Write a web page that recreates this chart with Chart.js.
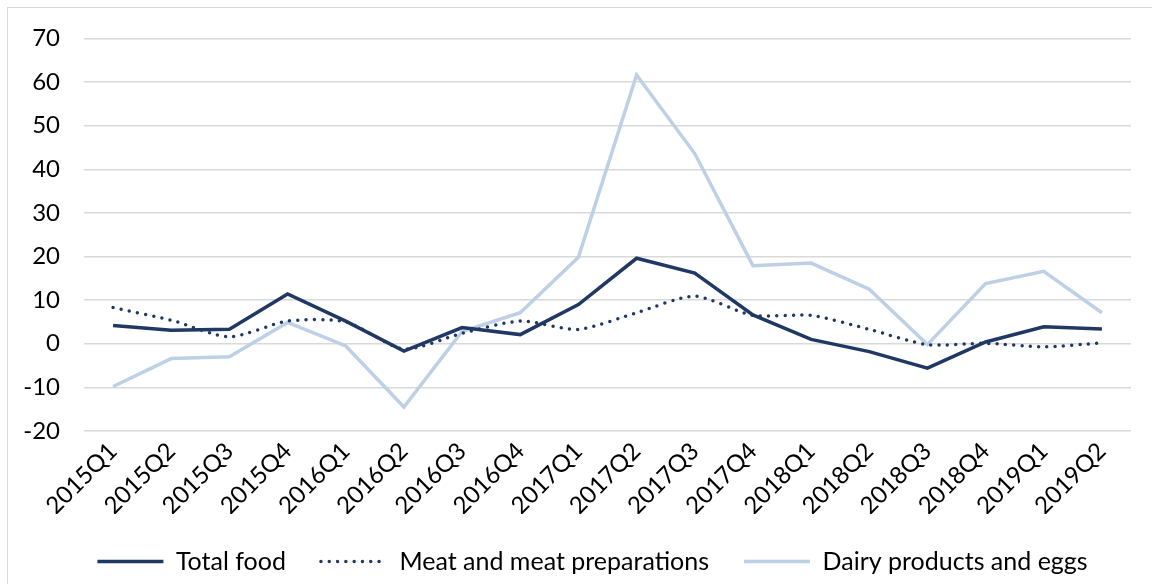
<!DOCTYPE html>
<html>
<head>
<meta charset="utf-8">
<script src="https://cdn.jsdelivr.net/npm/chart.js@4/dist/chart.umd.min.js"></script>
<style>
  html, body { margin: 0; padding: 0; background: #fff; }
  #wrap { position: relative; width: 1152px; height: 584px; overflow: hidden; }
  #frame { position: absolute; left: 7px; top: 7px; width: 1200px; height: 700px; border: 1px solid #d9d9d9; box-sizing: border-box; }
  #chart { position: absolute; left: 0; top: 0; }
</style>
</head>
<body>
<div id="wrap">
  <div id="frame"></div>
  <canvas id="chart" width="1152" height="584"></canvas>
</div>
<script>
const quarters = ['2015Q1', '2015Q2', '2015Q3', '2015Q4', '2016Q1', '2016Q2', '2016Q3', '2016Q4',
  '2017Q1', '2017Q2', '2017Q3', '2017Q4', '2018Q1', '2018Q2', '2018Q3', '2018Q4', '2019Q1', '2019Q2'];

const totalFood = [4.2, 3.1, 3.3, 11.4, 5.2, -1.7, 3.7, 2.1, 9.0, 19.6, 16.2, 6.6, 1.0, -1.8, -5.6, 0.4, 3.9, 3.4];
const meat = [8.3, 5.4, 1.6, 5.2, 5.0, -1.2, 2.4, 5.2, 3.3, 7.1, 10.9, 6.5, 6.5, 3.3, -0.2, 0.1, -0.7, 0.2];
const dairy = [-9.8, -3.4, -3.0, 4.9, -0.5, -14.5, 2.8, 7.1, 19.8, 61.6, 43.6, 17.9, 18.5, 12.5, -0.2, 13.8, 16.6, 7.1];

const yMin = -20;
const yMax = 70;
const yStep = 10;

const dark = '#203864';
const light = '#bdd0e5';
const font = { family: 'Lato', size: 24 };

// legend is centred a bit right of the plot in the original
const shiftLegend = {
  id: 'shiftLegend',
  afterLayout(chart) {
    chart.legend.left += 27;
    chart.legend.right += 27;
  }
};

new Chart('chart', {
  type: 'line',
  data: {
    labels: quarters,
    datasets: [
      {
        label: 'Total food',
        data: totalFood,
        borderColor: dark,
        backgroundColor: dark,
        borderWidth: 3.5,
        pointRadius: 0,
        tension: 0,
        order: 1
      },
      {
        label: 'Meat and meat preparations',
        data: meat,
        borderColor: dark,
        backgroundColor: dark,
        borderWidth: 3.5,
        borderDash: [0, 8.3],
        borderCapStyle: 'round',
        pointRadius: 0,
        tension: 0.25,
        order: 2
      },
      {
        label: 'Dairy products and eggs',
        data: dairy,
        borderColor: light,
        backgroundColor: light,
        borderWidth: 3.5,
        pointRadius: 0,
        tension: 0,
        order: 3
      }
    ]
  },
  plugins: [shiftLegend],
  options: {
    responsive: false,
    animation: false,
    layout: { padding: { top: 36, right: 21, left: 0, bottom: 0 } },
    plugins: {
      tooltip: { enabled: false },
      legend: {
        position: 'bottom',
        labels: {
          font: { family: 'Lato', size: 25 },
          color: '#000',
          usePointStyle: true,
          pointStyle: 'line',
          pointStyleWidth: 66,
          boxHeight: 20,
          padding: 35,
          generateLabels(chart) {
            const items = Chart.defaults.plugins.legend.labels.generateLabels(chart);
            items.forEach(item => {
              const ds = chart.data.datasets[item.datasetIndex];
              item.lineDash = ds.borderDash || [];
              item.lineCap = ds.borderCapStyle || 'butt';
              item.lineWidth = ds.borderWidth;
              item.strokeStyle = ds.borderColor;
            });
            return items;
          }
        }
      }
    },
    scales: {
      x: {
        offset: true,
        grid: { display: false, drawTicks: false },
        border: { display: false },
        ticks: { font: font, color: '#000', minRotation: 45, maxRotation: 45, padding: 6 },
        afterFit: s => { s.height = 83; }
      },
      y: {
        min: yMin,
        max: yMax,
        grid: { color: '#d9d9d9', lineWidth: 1.5, drawTicks: false },
        border: { display: false },
        ticks: { stepSize: yStep, font: font, color: '#000', padding: 24 },
        afterFit: s => { s.width = 84; }
      }
    }
  }
});
</script>
</body>
</html>
